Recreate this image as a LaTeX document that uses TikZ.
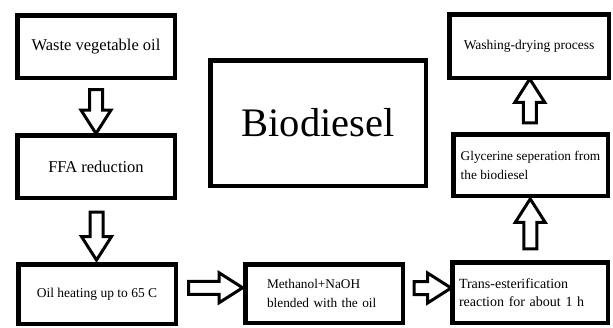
\documentclass[tikz,border=0pt]{standalone}
\usepackage{fontspec}
\setmainfont{Liberation Serif}
\usetikzlibrary{calc}
\usetikzlibrary{shapes.arrows}

\begin{document}
\begin{tikzpicture} [x=1pt,y=-1pt,
 stepbox/.style={draw=black, line width=4.5pt, rectangle, inner sep=0pt, font=\fontsize{13.5}{19}\selectfont},
 fatarrow/.style={single arrow, draw=black, line width=3pt, fill=white, inner xsep=0pt, inner ysep=5pt,
   single arrow head extend=8.5pt, single arrow tip angle=65, single arrow head indent=0pt}]
\useasboundingbox (0,0) rectangle (613,327);
\node[stepbox, minimum width=157.5pt, minimum height=62.5pt, font=\fontsize{16.5}{20}\selectfont] (waste) at (96,46.5) {Waste vegetable oil};
\node[stepbox, minimum width=157.5pt, minimum height=62.5pt, font=\fontsize{16.5}{20}\selectfont] (ffa) at (96,166.5) {FFA reduction};
\node[stepbox, minimum width=157.5pt, minimum height=59.5pt] (heat) at (97,294) {Oil heating up to 65 C};
\node[stepbox, minimum width=157.5pt, minimum height=58.5pt, text width=114pt, align=left, font=\fontsize{13.3}{19}\selectfont] (meth) at (324,293.5) {Methanol+NaOH\\blended with the oil};
\node[stepbox, minimum width=155.5pt, minimum height=60.5pt, text width=142pt, align=left, font=\fontsize{14}{18.5}\selectfont] (trans) at (530,292.5) {Trans-esterification\\reaction for about 1 h};
\node[stepbox, minimum width=154.5pt, minimum height=61.5pt, align=left, font=\fontsize{13.3}{19}\selectfont] (glyc) at (530.5,165) {Glycerine seperation from\\the biodiesel};
\node[stepbox, minimum width=159.5pt, minimum height=63.5pt] (wash) at (529,46) {Washing-drying process};
\node[stepbox, minimum width=215.5pt, minimum height=125.5pt, font=\fontsize{40.5}{45}\selectfont] (bio) at (318,123) {Biodiesel};

\node[fatarrow, minimum height=44pt, rotate=-90] (a1) at ($(waste.south)!0.5!(ffa.north)$) {};
\node[fatarrow, minimum height=48pt, rotate=-90] (a2) at ($(ffa.south)!0.5!(heat.north)$) {};
\node[fatarrow, minimum height=54pt, yshift=6pt] (a3) at ($(heat.east)!0.5!(meth.west)$) {};
\node[fatarrow, minimum height=37pt, yshift=5pt] (a4) at ($(meth.east)!0.5!(trans.west)$) {};
\node[fatarrow, minimum height=50pt, rotate=90] (a5) at ($(trans.north)!0.5!(glyc.south)$) {};
\node[fatarrow, minimum height=44pt, rotate=90] (a6) at ($(glyc.north)!0.5!(wash.south)$) {};
\end{tikzpicture}
\end{document}
